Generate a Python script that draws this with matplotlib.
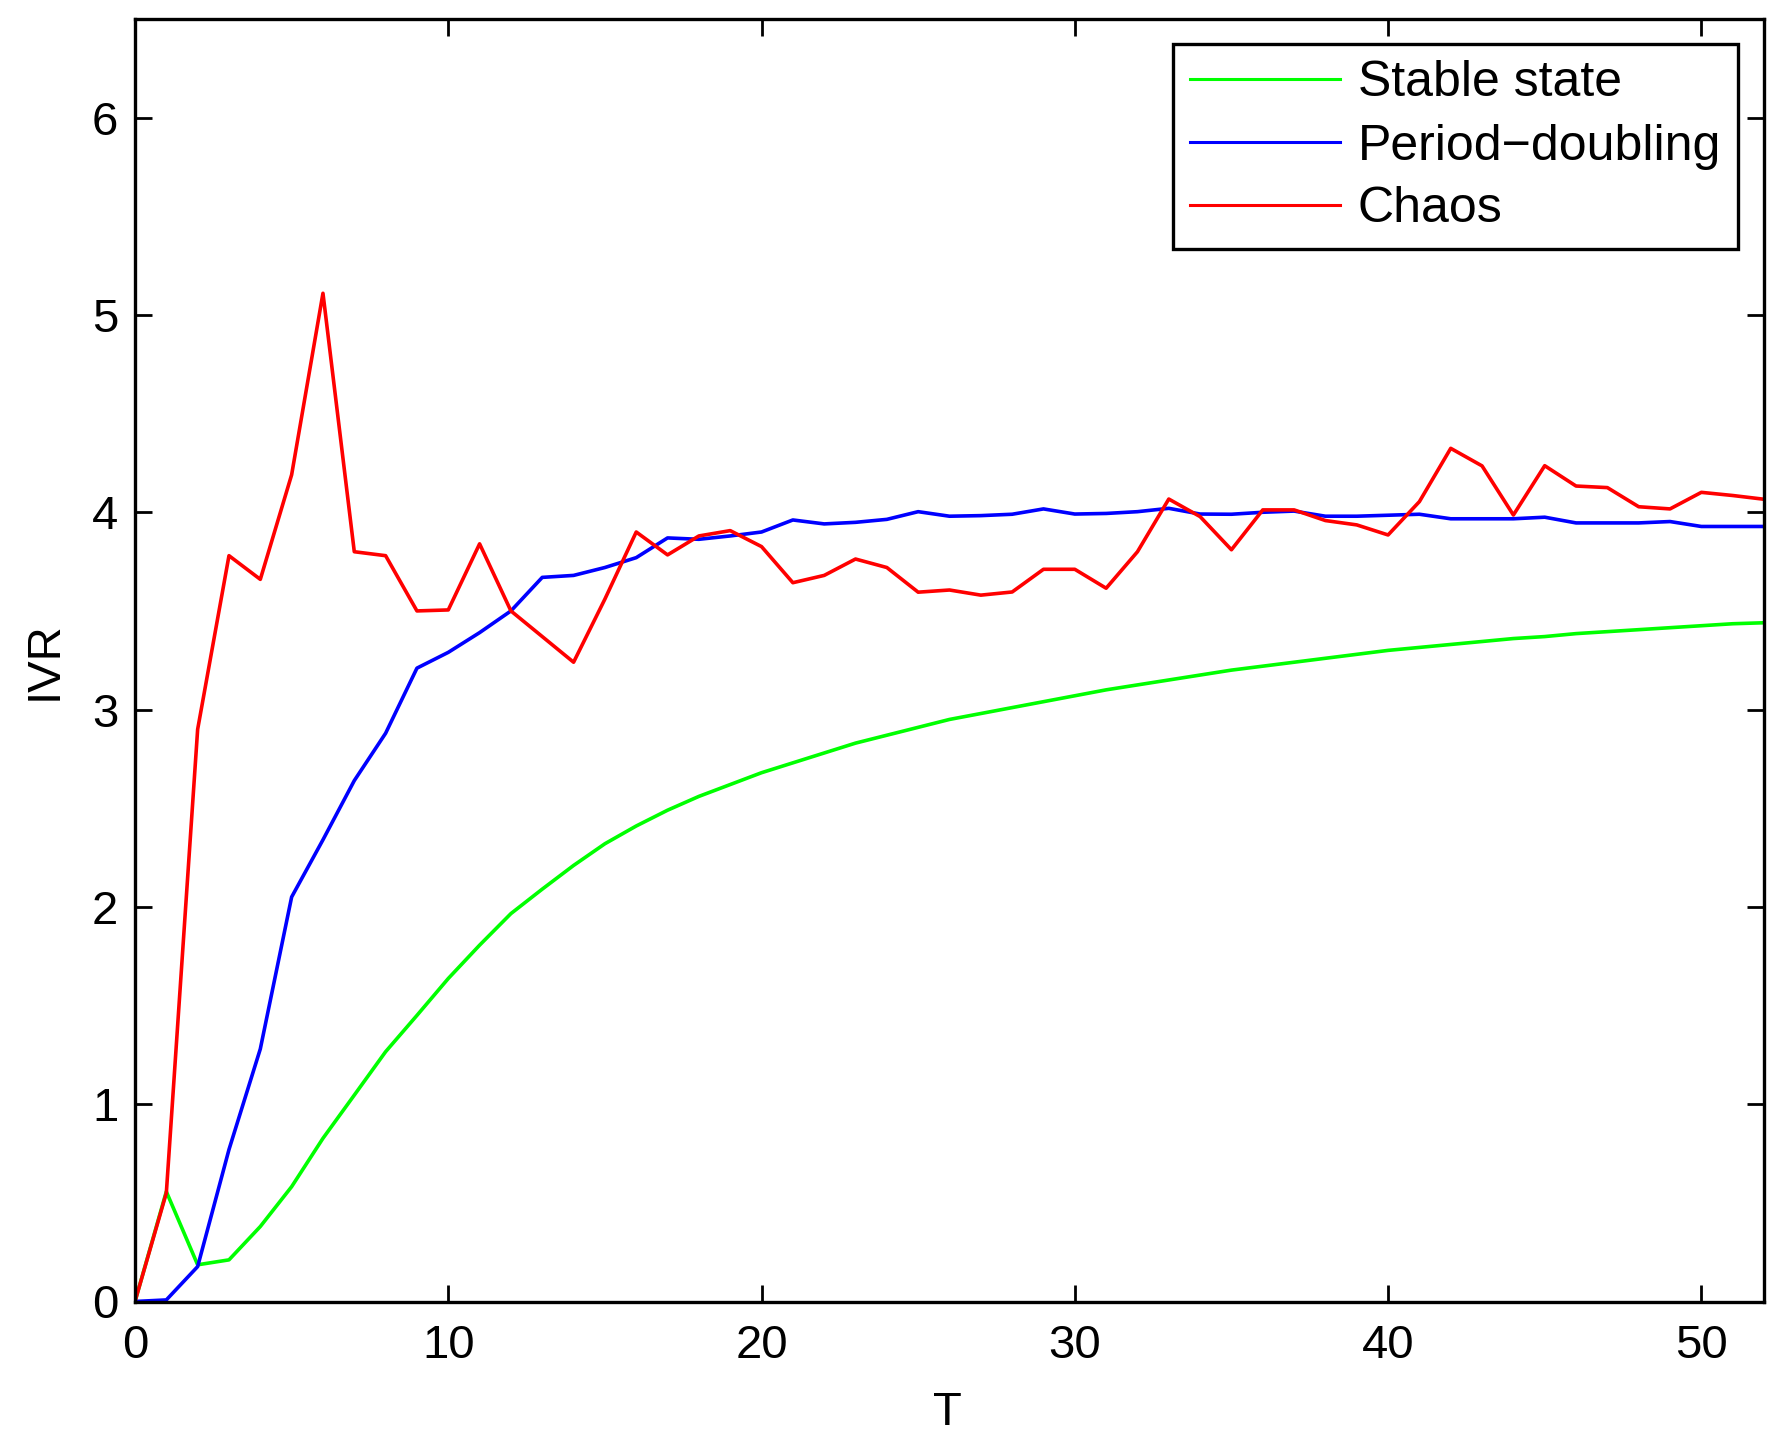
import matplotlib
matplotlib.use("Agg")
import matplotlib.pyplot as plt

# ---------------- data ----------------
T = list(range(0, 53))

stable_state = [0.0, 0.557, 0.186, 0.211, 0.38, 0.582, 0.827, 1.046, 1.266, 1.45,
                1.637, 1.806, 1.966, 2.09, 2.21, 2.32, 2.41, 2.49, 2.56, 2.62,
                2.68, 2.73, 2.78, 2.83, 2.87, 2.91, 2.95, 2.98, 3.01, 3.04,
                3.07, 3.10, 3.125, 3.15, 3.175, 3.20, 3.22, 3.24, 3.26, 3.28,
                3.30, 3.315, 3.33, 3.345, 3.36, 3.37, 3.385, 3.395, 3.405, 3.415,
                3.425, 3.435, 3.44]

period_doubling = [0.0, 0.008, 0.177, 0.77, 1.28, 2.05, 2.34, 2.64, 2.88, 3.21,
                   3.29, 3.39, 3.50, 3.67, 3.68, 3.72, 3.77, 3.87, 3.863, 3.88,
                   3.90, 3.961, 3.941, 3.949, 3.964, 4.003, 3.98, 3.983, 3.99, 4.017,
                   3.991, 3.994, 4.003, 4.02, 3.991, 3.99, 4.0, 4.006, 3.98, 3.98,
                   3.985, 3.99, 3.967, 3.967, 3.967, 3.975, 3.946, 3.946, 3.946, 3.953,
                   3.928, 3.928, 3.928]

chaos = [0.0, 0.55, 2.90, 3.78, 3.66, 4.19, 5.11, 3.80, 3.78, 3.50,
         3.505, 3.84, 3.50, 3.37, 3.24, 3.56, 3.90, 3.784, 3.88, 3.907,
         3.826, 3.643, 3.68, 3.763, 3.72, 3.595, 3.606, 3.58, 3.596, 3.711,
         3.711, 3.615, 3.80, 4.067, 3.978, 3.81, 4.012, 4.012, 3.958, 3.936,
         3.885, 4.054, 4.324, 4.235, 3.986, 4.236, 4.133, 4.125, 4.028, 4.017,
         4.101, 4.085, 4.066]

series_labels = ["Stable state", "Period\u2212doubling", "Chaos"]
x_ticks = [0, 10, 20, 30, 40, 50]
y_ticks = [0, 1, 2, 3, 4, 5, 6]

# ---------------- style ----------------
plt.rcParams['font.family'] = ['Liberation Sans', 'DejaVu Sans']
FS = 34
LFS = 36

fig = plt.figure(figsize=(17.82, 14.46), dpi=100)
ax = fig.add_axes([135 / 1782, 1 - 1301.5 / 1446, (1764 - 135) / 1782, (1301.5 - 19) / 1446])

lw = 2.6
ax.plot(T, stable_state, color=(0, 1, 0), lw=lw, label=series_labels[0])
ax.plot(T, period_doubling, color=(0, 0, 1), lw=lw, label=series_labels[1])
ax.plot(T, chaos, color=(1, 0, 0), lw=lw, label=series_labels[2])

ax.set_xlim(0, 52)
ax.set_ylim(0, 6.5)
ax.set_xticks(x_ticks)
ax.set_yticks(y_ticks)
ax.tick_params(direction='in', length=12, width=2, top=True, right=True,
               labelsize=FS, colors='black')
ax.tick_params(axis='x', pad=16)
ax.tick_params(axis='y', pad=12)
for s in ax.spines.values():
    s.set_linewidth(2.4)
    s.set_color('black')

ax.set_xlabel("T", fontsize=FS)
ax.set_ylabel("IVR", fontsize=FS)
ax.xaxis.set_label_coords(0.4985, -0.070)
ax.yaxis.set_label_coords(-0.042, 0.5)

leg = ax.legend(loc='upper right', bbox_to_anchor=(1737.5 / 1782, 1 - 44 / 1446),
                bbox_transform=fig.transFigure, borderaxespad=0,
                fontsize=LFS, handlelength=3.0, handletextpad=0.36,
                borderpad=0.33, labelspacing=0.34, fancybox=False, framealpha=1)
leg.get_frame().set_edgecolor('black')
leg.get_frame().set_linewidth(2.4)
for h in leg.get_lines():
    h.set_linewidth(2.2)

fig.savefig("out.png", dpi=100, facecolor='white')
